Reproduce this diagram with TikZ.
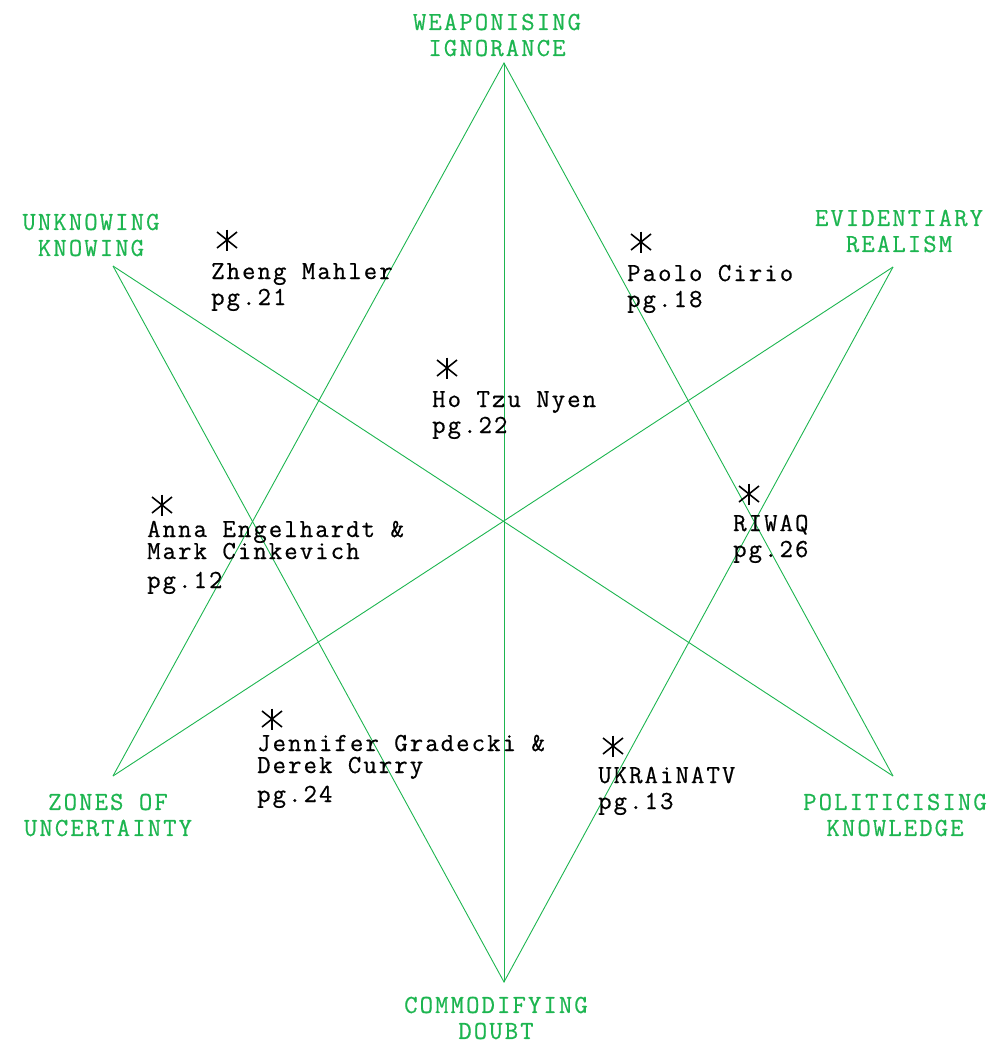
\documentclass[tikz,border=0pt]{standalone}
\usepackage{fontspec}
\setmonofont{Latin Modern Mono}[LetterSpace=8, FakeBold=0.6]
\definecolor{stargreen}{RGB}{29,181,80}
\tikzset{
  starline/.style={stargreen, line width=0.9pt},
  theme/.style={font=\ttfamily\fontsize{26}{26}\selectfont, text=stargreen, align=center, inner sep=0pt},
  work/.style={font=\ttfamily\fontsize{26}{26}\selectfont, align=left, anchor=base west, inner sep=0pt},
  astline/.style={line width=1.6pt}
}
\newcommand{\astmark}[1]{%
  \draw[astline] ($(#1)+(0,-10.5)$) -- ($(#1)+(0,10.5)$);
  \draw[astline] ($(#1)+(-10,-8)$) -- ($(#1)+(10,8)$);
  \draw[astline] ($(#1)+(-10,8)$) -- ($(#1)+(10,-8)$);}
\usetikzlibrary{calc}
\begin{document}
\begin{tikzpicture}[x=1pt, y=-1pt]
\useasboundingbox (0,0) rectangle (1006,1045);
% Star points
\coordinate (top) at (504,63);
\coordinate (bot) at (504,982);
\coordinate (ul) at (113,266);
\coordinate (ur) at (893,267);
\coordinate (ll) at (113,776);
\coordinate (lr) at (893,776);
% Lines
\draw[starline] (top) -- (bot);
\draw[starline] (ul) -- (lr);
\draw[starline] (ur) -- (ll);
\draw[starline] (ll) -- (top) -- (lr);
\draw[starline] (ul) -- (bot) -- (ur);
% Themes
\node[theme] (weap) at (497,35) {WEAPONISING\\IGNORANCE};
\node[theme] (unkn) at (91,235) {UNKNOWING\\KNOWING};
\node[theme] (evid) at (899,231) {EVIDENTIARY\\REALISM};
\node[theme] (zone) at (108,815) {ZONES OF\\UNCERTAINTY};
\node[theme] (poli) at (895,815) {POLITICISING\\KNOWLEDGE};
\node[theme] (comm) at (496,1018) {COMMODIFYING\\DOUBT};
% Asterisks
\coordinate (a1) at (227,240);
\coordinate (a2) at (641,242);
\coordinate (a3) at (447,368);
\coordinate (a4) at (162,505);
\coordinate (a5) at (749,494);
\coordinate (a6) at (272,719);
\coordinate (a7) at (613,746);
\foreach \a in {a1,a2,a3,a4,a5,a6,a7} {\astmark{\a}}
% Works (anchored at the last line)
\node[work] (zheng) at (211,305) {Zheng Mahler\\pg.21};
\node[work] (paolo) at (627,307) {Paolo Cirio\\pg.18};
\node[work] (ho) at (432,433) {Ho Tzu Nyen\\pg.22};
\node[work] (anna) at (147,588) {Anna Engelhardt \&\\[-4pt]Mark Cinkevich\\[3pt]pg.12};
\node[work] (riwaq) at (733,557) {RIWAQ\\pg.26};
\node[work] (jen) at (257,802) {Jennifer Gradecki \&\\[-4pt]Derek Curry\\[3pt]pg.24};
\node[work] (ukr) at (598,809) {UKRAiNATV\\pg.13};
\end{tikzpicture}
\end{document}
